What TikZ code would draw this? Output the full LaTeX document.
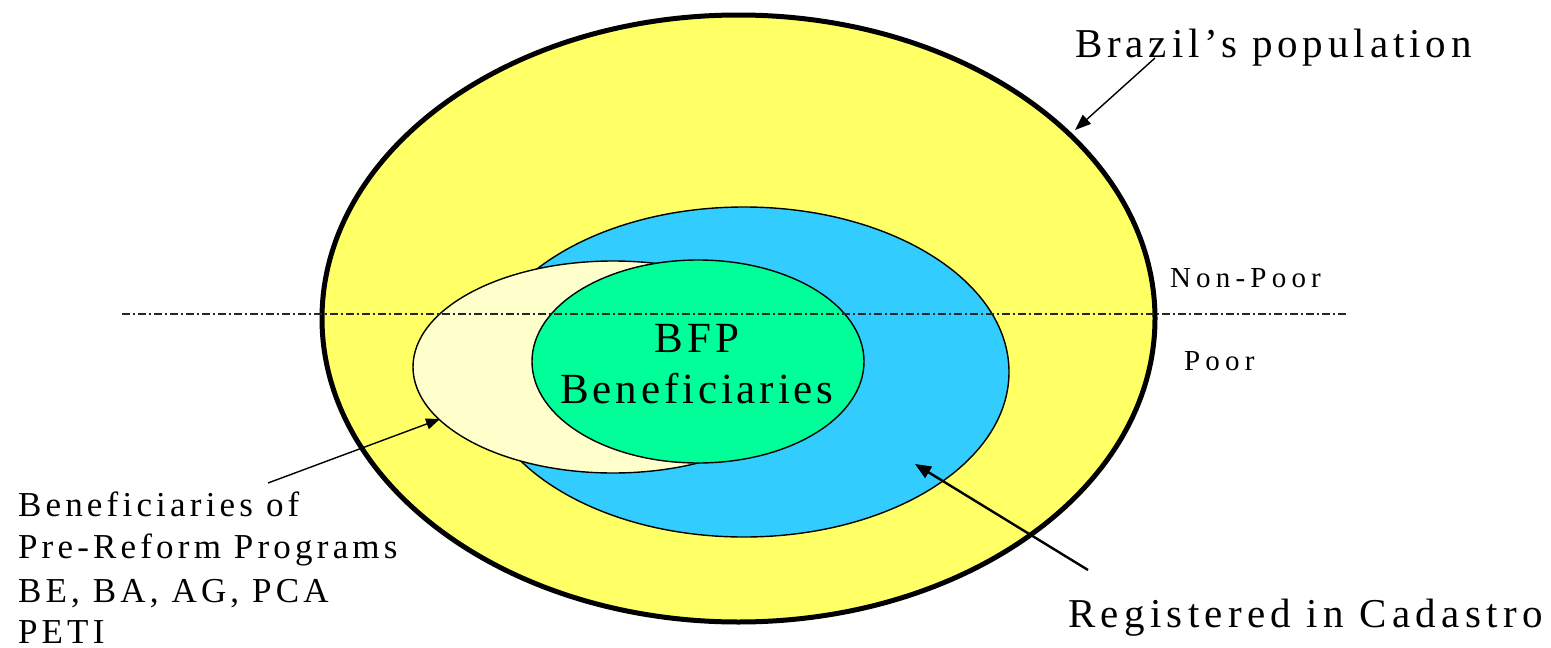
\documentclass[tikz,border=0pt]{standalone}
\usepackage{fontspec}
\setmainfont{Liberation Serif}
\newfontfamily\lsBig[LetterSpace=12]{Liberation Serif}
\newfontfamily\lsReg[LetterSpace=13]{Liberation Serif}
\newfontfamily\lsMid[LetterSpace=9]{Liberation Serif}
\newfontfamily\lsLeft[LetterSpace=12]{Liberation Serif}
\newfontfamily\lsSmall[LetterSpace=18]{Liberation Serif}
\usetikzlibrary{shapes.geometric,arrows.meta}
\definecolor{popyellow}{HTML}{FFFF66}
\definecolor{cadblue}{HTML}{33CCFF}
\definecolor{preyellow}{HTML}{FFFFCC}
\definecolor{bfpgreen}{HTML}{00FF99}
\tikzset{
  region/.style={ellipse, draw=black, line width=1.4pt, inner sep=0pt, outer sep=0pt},
  lbl/.style={inner sep=0pt, outer sep=0pt, anchor=base west, text=black},
  arr/.style={draw=black, line width=1.4pt, -{Triangle[length=16pt,width=12pt]}},
  povline/.style={draw=black!85, line width=1.2pt, dash pattern=on 8pt off 3pt on 2pt off 3pt}
}
\begin{document}
\begin{tikzpicture}[x=1pt,y=-1pt]
\useasboundingbox (0,0) rectangle (1551,648);
% ellipses
\node[region, fill=popyellow, line width=5pt, minimum width=833pt, minimum height=607pt] (pop) at (738.5,318.5) {};
\node[region, fill=cadblue, minimum width=530pt, minimum height=330pt] (cad) at (744,372) {};
\node[region, fill=preyellow, minimum width=400pt, minimum height=212pt] (pre) at (613,367) {};
\node[region, fill=bfpgreen, minimum width=332pt, minimum height=203pt] (bfp) at (698,361.5) {};
% poverty line
\coordinate (pl1) at (122,314);
\coordinate (pl2) at (1348,314);
\draw[povline] (pl1) -- (pl2);
% texts
\node[lbl, font=\fontsize{41}{49}\lsBig] (tpop) at (1075,57) {Brazil’s population};
\node[lbl, font=\fontsize{29}{35}\lsSmall] (tnp) at (1170,287) {Non-Poor};
\node[lbl, font=\fontsize{29}{35}\lsSmall] (tp) at (1184,370) {Poor};
\node[inner sep=0pt, anchor=base, font=\fontsize{43}{52}\lsMid] (tbfp1) at (697,352) {BFP};
\node[inner sep=0pt, anchor=base, font=\fontsize{43}{52}\lsMid] (tbfp2) at (697,403) {Beneficiaries};
\node[lbl, font=\fontsize{35}{42}\lsLeft] (tl1) at (18,516) {Beneficiaries of};
\node[lbl, font=\fontsize{35}{42}\lsLeft] (tl2) at (18,558) {Pre-Reform Programs};
\node[lbl, font=\fontsize{35}{42}\lsLeft] (tl3) at (18,602) {BE, BA, AG, PCA};
\node[lbl, font=\fontsize{35}{42}\lsLeft] (tl4) at (18,643) {PETI};
\node[lbl, font=\fontsize{41}{49}\lsReg] (treg) at (1068,627) {Registered in Cadastro};
% arrows
\coordinate (popS) at (1155,58);
\coordinate (popT) at (1075,130);
\draw[arr] (popS) -- (popT);
\coordinate (preS) at (268,483);
\coordinate (preT) at (440,419);
\draw[arr, -{Triangle[length=14pt,width=11pt]}] (preS) -- (preT);
\coordinate (cadS) at (1088,570);
\coordinate (cadT) at (915,464);
\draw[arr, line width=2.4pt, -{Triangle[length=16pt,width=13pt]}] (cadS) -- (cadT);
\end{tikzpicture}
\end{document}
